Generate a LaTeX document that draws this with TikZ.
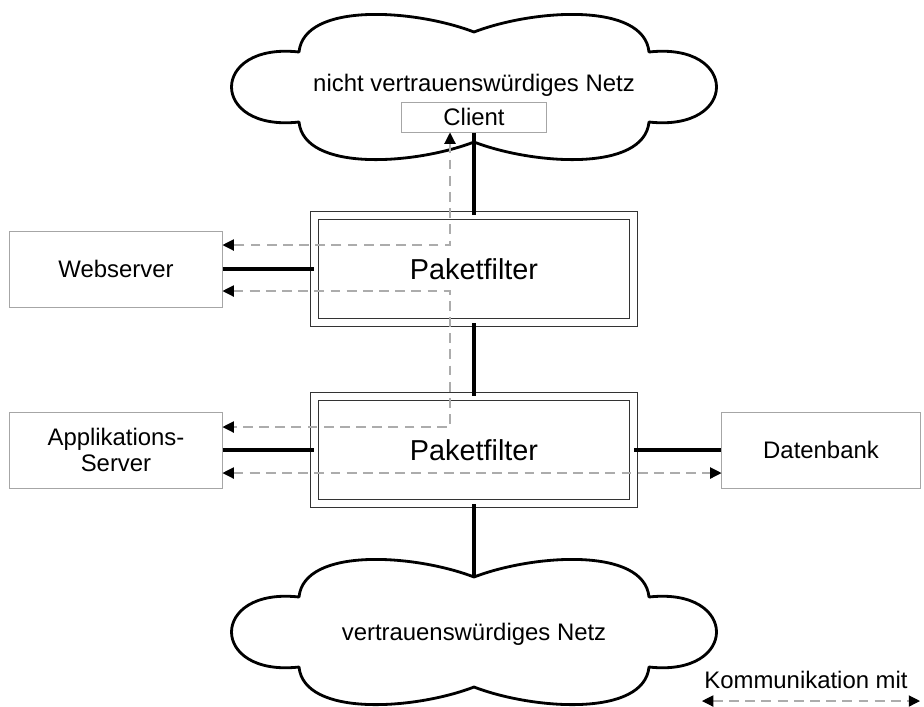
\documentclass[tikz,border=0pt]{standalone}
\usepackage{fontspec}
\setmainfont{Liberation Sans}
\usepackage{tikz}
\usetikzlibrary{arrows.meta, calc, positioning}

\begin{document}
\begin{tikzpicture}[x=0.025cm, y=-0.025cm,
    every node/.style={font=\fontsize{17}{18.5}\selectfont},
    hostbox/.style={draw=gray!70, line width=0.7pt, inner sep=2pt, minimum width=5.3cm, minimum height=1.9cm, align=center},
    filterbox/.style={draw=black!80, double, double distance=5pt, line width=0.8pt, minimum width=7.975cm, minimum height=2.675cm, font=\fontsize{20.5}{24}\selectfont},
    link/.style={line width=2.2pt},
    comm/.style={gray!65, line width=0.8pt, dash pattern=on 7pt off 4.5pt, {Triangle[length=8pt,width=8pt,black]}-{Triangle[length=8pt,width=8pt,black]}},
    cloud/.style={line width=2pt, line join=round}]
    \useasboundingbox (0,0) rectangle (924,706);

    % clouds
    \foreach \cy in {87,632} {
        \draw[cloud, shift={(474,\cy)}] (-175,-35)
            .. controls (-170,-85) and (-60,-78) .. (0,-55)
            .. controls (60,-78) and (170,-85) .. (175,-35)
            .. controls (265,-45) and (265,45) .. (175,35)
            .. controls (170,85) and (60,78) .. (0,55)
            .. controls (-60,78) and (-170,85) .. (-175,35)
            .. controls (-265,45) and (-265,-45) .. (-175,-35) -- cycle;
    }
    \node (inet) at (474,85) {nicht vertrauensw\"urdiges Netz};
    \node (lan) at (474,634) {vertrauensw\"urdiges Netz};
    \coordinate (lantop) at (474,578);

    % hosts and filters
    \node[hostbox, minimum width=3.625cm, minimum height=0.75cm] (client) at (474,117) {Client};
    \node[filterbox] (pf1) at (474,269) {Paketfilter};
    \node[filterbox] (pf2) at (474,450) {Paketfilter};
    \node[hostbox] (ws) at (116,269) {Webserver};
    \node[hostbox] (app) at (116,450) {Applikations-\\Server};
    \node[hostbox, minimum width=4.95cm] (db) at (821,450) {Datenbank};

    % wiring
    \draw[link] (client.south) -- (pf1.north);
    \draw[link] (pf1.south) -- (pf2.north);
    \draw[link] (pf2.south) -- (lantop);
    \draw[link] (ws.east) -- (pf1.west);
    \draw[link] (app.east) -- (pf2.west);
    \draw[link] (pf2.east) -- (db.west);

    % communication
    \coordinate (dx) at (450,0);
    \draw[comm] (client.south -| dx) |- ($(ws.east)+(0,-24)$);
    \draw[comm] ($(ws.east)+(0,22)$) -| ($(app.east -| dx)+(0,-23)$) -- ($(app.east)+(0,-23)$);
    \draw[comm] ($(app.east)+(0,23)$) -- ($(db.west)+(0,23)$);

    % legend
    \node (legend) at (806,680) {Kommunikation mit};
    \coordinate (kl) at (702,701);
    \coordinate (kr) at (920,701);
    \draw[comm] (kl) -- (kr);
\end{tikzpicture}
\end{document}
